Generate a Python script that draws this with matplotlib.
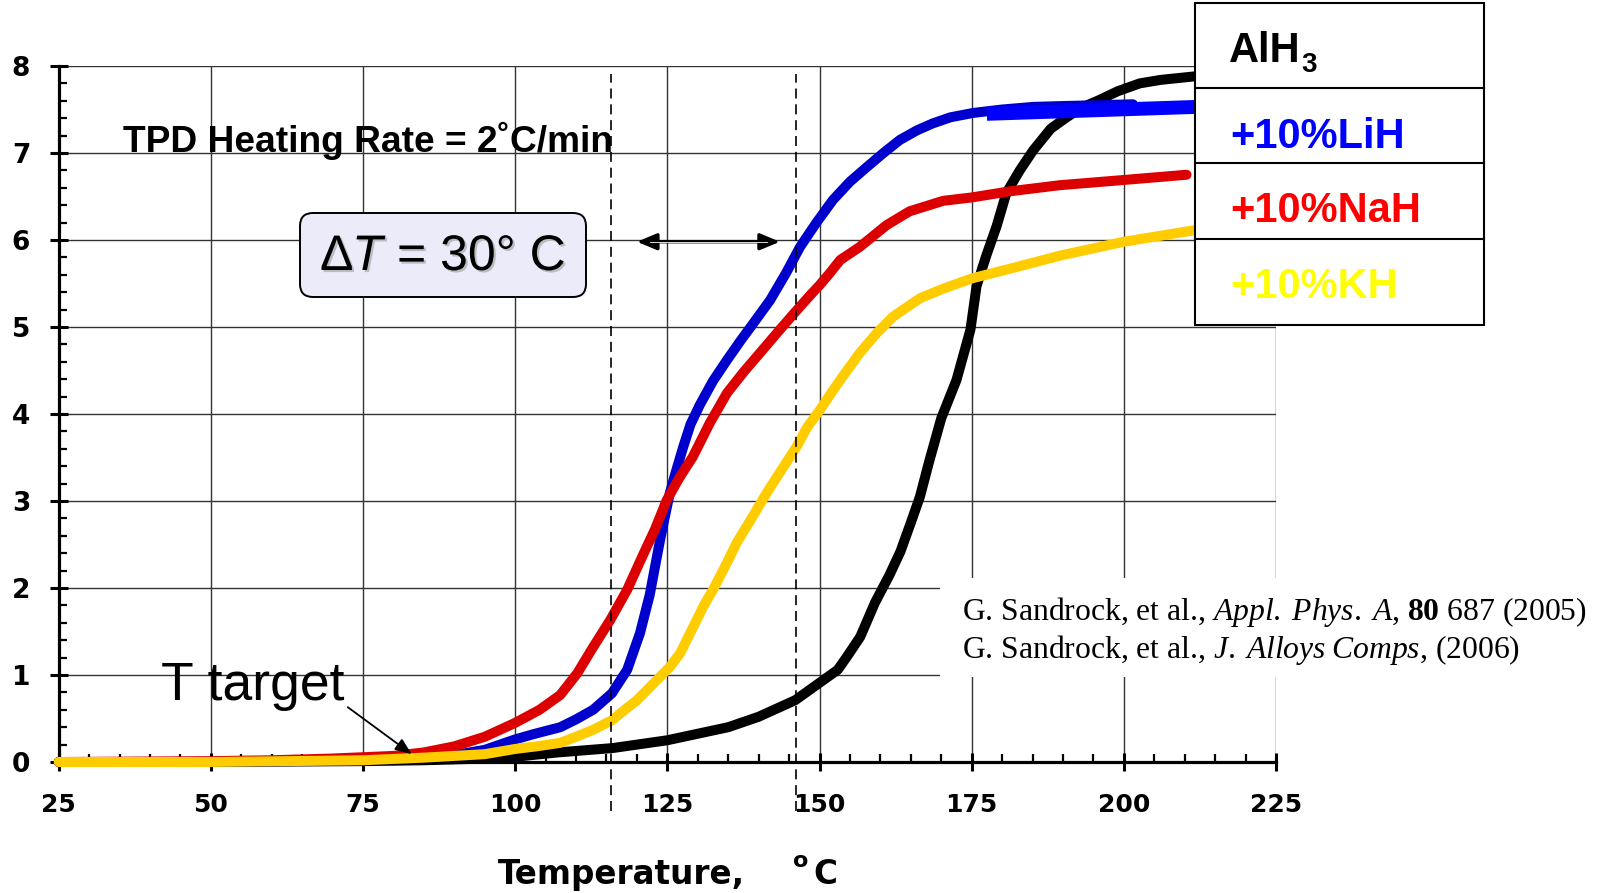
import matplotlib
matplotlib.use("Agg")
import matplotlib.pyplot as plt
from matplotlib.patches import FancyBboxPatch, Rectangle
from matplotlib.lines import Line2D
from matplotlib.ticker import MultipleLocator
import matplotlib.patheffects as pe

# ---- TPD hydrogen release curves (wt.% H2 vs temperature, degC) ----
temp_alh3 = [25, 50, 75, 85, 95, 100, 107, 116, 125, 135, 140, 146, 150, 153,
             154.5, 156.7, 159.1, 161.5, 163.3, 165, 166.5, 168, 170, 172.5,
             174.8, 175.8, 177.4, 179.1, 180.7, 182.9, 185.1, 188, 190.6, 193,
             196, 199, 202.6, 206, 211.5]
h2_alh3 = [0, 0, 0.01, 0.02, 0.04, 0.06, 0.11, 0.16, 0.25, 0.40, 0.52, 0.71,
           0.91, 1.06, 1.21, 1.44, 1.83, 2.15, 2.42, 2.75, 3.05, 3.45, 3.95,
           4.39, 4.97, 5.47, 5.82, 6.16, 6.54, 6.80, 7.03, 7.28, 7.41, 7.52,
           7.61, 7.71, 7.80, 7.84, 7.88]

temp_lih = [25, 50, 75, 85, 90, 95, 100, 103, 107.4, 110, 112.8, 115.9,
            118.4, 120.5, 121.3, 122.1, 123.8, 124.6, 125.4, 126.5, 127.6,
            128.8, 130.3, 132.5, 134.8, 137, 139.1, 141.9, 144.5, 146.8,
            149.5, 152.2, 155, 157.8, 160.5, 163.2, 166, 168.6, 171.5, 175.2,
            180, 185.1, 190, 196, 201.5]
h2_lih = [0, 0, 0.02, 0.05, 0.08, 0.14, 0.26, 0.32, 0.40, 0.49, 0.60, 0.79,
          1.06, 1.48, 1.70, 1.92, 2.55, 2.82, 3.09, 3.36, 3.62, 3.88, 4.10,
          4.38, 4.62, 4.84, 5.04, 5.31, 5.62, 5.92, 6.20, 6.46, 6.67, 6.84,
          7.00, 7.15, 7.26, 7.34, 7.41, 7.46, 7.50, 7.53, 7.54, 7.55, 7.56]
temp_lih_tail = [177.5, 212]
h2_lih_tail = [7.45, 7.53]

temp_nah = [25, 50, 60, 70, 80, 85, 90, 95, 100, 104, 107.4, 110.2, 112.8,
            115.6, 118.4, 121.0, 123, 124.9, 127, 129.2, 132, 134.8, 137.5,
            140.2, 143, 145.6, 148.4, 150, 151.7, 153.4, 156.6, 161, 164.8,
            170.3, 175.1, 181.3, 189.5, 200, 210.3]
h2_nah = [0, 0.01, 0.02, 0.04, 0.07, 0.11, 0.18, 0.29, 0.45, 0.60, 0.77,
          1.02, 1.32, 1.63, 1.98, 2.38, 2.68, 3.01, 3.27, 3.51, 3.90, 4.24,
          4.48, 4.70, 4.93, 5.14, 5.36, 5.48, 5.62, 5.77, 5.92, 6.17, 6.33,
          6.45, 6.49, 6.56, 6.63, 6.69, 6.75]

temp_kh = [25, 50, 75, 85, 90, 95, 100, 103.5, 107.4, 110, 112.8, 115.9,
           118, 120.0, 123.8, 125.5, 127.1, 129.8, 131, 132.5, 134.5, 136.4,
           139, 141.3, 143.5, 146.2, 148, 150.1, 152, 153.8, 156.6, 159.4,
           162.1, 166.5, 170.3, 175.1, 181.3, 189.5, 200, 211.4]
h2_kh = [0, 0, 0.02, 0.05, 0.07, 0.09, 0.15, 0.18, 0.22, 0.29, 0.37, 0.48,
         0.60, 0.71, 0.98, 1.10, 1.25, 1.63, 1.80, 1.98, 2.25, 2.52, 2.82,
         3.09, 3.33, 3.62, 3.85, 4.05, 4.25, 4.43, 4.70, 4.93, 5.12, 5.33,
         5.44, 5.56, 5.67, 5.82, 5.98, 6.11]

legend_labels = ["+10%LiH", "+10%NaH", "+10%KH"]
legend_colors = ["#0000FF", "#FF0000", "#FFFF00"]

x_ticks = [25, 50, 75, 100, 125, 150, 175, 200, 225]
y_ticks = [0, 1, 2, 3, 4, 5, 6, 7, 8]
delta_t_marks = [115.8, 146.2]

W, H = 1605, 893
plt.rcParams["mathtext.fontset"] = "custom"
plt.rcParams["mathtext.rm"] = "Liberation Serif"
plt.rcParams["mathtext.it"] = "Liberation Serif:italic"
plt.rcParams["mathtext.bf"] = "Liberation Serif:bold"

fig = plt.figure(figsize=(W / 100, H / 100), dpi=100)


def fx(px):
    return px / W


def fy(py):
    return 1 - py / H


def inch(px, py):
    return (px / 100, (H - py) / 100)


ax = fig.add_axes([fx(58.7), fy(762), fx(1276) - fx(58.7), fy(66) - fy(762)])
ax.set_xlim(25, 225)
ax.set_ylim(0, 8)
ax.set_xticks(x_ticks)
ax.set_yticks(y_ticks)
ax.xaxis.set_minor_locator(MultipleLocator(5))
ax.yaxis.set_minor_locator(MultipleLocator(0.2))
ax.grid(True, which="major", color="#333333", lw=1.0, zorder=0)
ax.set_axisbelow(True)
for s in ("top", "right"):
    ax.spines[s].set_visible(False)
for s in ("left", "bottom"):
    ax.spines[s].set_linewidth(2.3)
ax.tick_params(which="major", direction="inout", length=13, width=2.2)
ax.tick_params(which="minor", direction="in", length=6, width=1.6)
ax.tick_params(axis="x", which="major", pad=16)
ax.tick_params(axis="y", which="major", pad=14)
for lab in ax.get_xticklabels() + ax.get_yticklabels():
    lab.set_fontsize(18)
    lab.set_fontweight("bold")
for lab in ax.get_yticklabels():
    lab.set_fontsize(19)

lw = 7.2
ax.plot(temp_alh3, h2_alh3, color="#000000", lw=lw, solid_capstyle="round",
        solid_joinstyle="round", clip_on=False, zorder=3)
ax.plot(temp_lih, h2_lih, color="#0000CC", lw=lw, solid_capstyle="round",
        solid_joinstyle="round", clip_on=False, zorder=3.1)
ax.plot(temp_nah, h2_nah, color="#DD0000", lw=lw, solid_capstyle="round",
        solid_joinstyle="round", clip_on=False, zorder=3.2)
ax.plot(temp_kh, h2_kh, color="#FFCC00", lw=lw, solid_capstyle="round",
        solid_joinstyle="round", clip_on=False, zorder=3.3)
ax.plot(temp_lih_tail, h2_lih_tail, color="#0000FF", lw=10,
        solid_capstyle="butt", clip_on=False, zorder=3.4)

# dashed markers bounding the temperature shift
for xm in delta_t_marks:
    ax.plot([xm, xm], [-0.56, 7.91], color="k", lw=1.2, ls=(0, (6, 3.5)),
            clip_on=False, zorder=4)

# double-headed arrow
ax.annotate("", xy=(120.0, 5.98), xytext=(143.5, 5.98),
            arrowprops=dict(arrowstyle="<|-|>,head_length=1.2,head_width=0.5",
                            lw=2.4, color="k", shrinkA=0, shrinkB=0),
            zorder=5)
ax.plot([122.2, 141.3], [5.98, 5.98], color="white", lw=0.6, zorder=6)

# T target annotation
ax.text(41.8, 0.71, "T target", fontsize=38.5, family="Liberation Sans",
        va="baseline", ha="left", zorder=6)
ax.annotate("", xy=(83.0, 0.09), xytext=(72.5, 0.63),
            arrowprops=dict(arrowstyle="-|>,head_length=1.0,head_width=0.4",
                            lw=1.3, color="k", shrinkA=0, shrinkB=0),
            zorder=6)

# heating rate note
fig.text(fx(123), fy(152), "TPD Heating Rate = 2˚C/min", fontsize=26.7,
         family="Liberation Sans", fontweight="bold", va="baseline")

# delta-T box
x0, y0 = inch(300, 297)
x1, y1 = inch(586, 213)
fig.patches.append(FancyBboxPatch((x0, y0), x1 - x0, y1 - y0,
                                  boxstyle="round,pad=0,rounding_size=0.13",
                                  facecolor="#EBEBFA", edgecolor="k", lw=1.4,
                                  transform=fig.dpi_scale_trans, figure=fig))
shadow = [pe.withSimplePatchShadow(offset=(1.5, -1.5), shadow_rgbFace="0.55",
                                   alpha=0.5)]
for txt, px, style in (("Δ", 320, "normal"), ("T", 352, "italic"),
                       ("= 30° C", 397, "normal")):
    fig.text(fx(px), fy(270), txt, fontsize=36, family="Liberation Sans",
             style=style, va="baseline", path_effects=shadow)

# legend table
lx0, ly0 = inch(1195, 325)
lx1, ly1 = inch(1484, 3)
fig.patches.append(Rectangle((lx0, ly0), lx1 - lx0, ly1 - ly0,
                             facecolor="white", edgecolor="k", lw=1.5,
                             transform=fig.dpi_scale_trans, figure=fig))
for py in (88, 163, 239):
    fig.lines.append(Line2D([fx(1195), fx(1484)], [fy(py), fy(py)],
                            color="k", lw=1.5, transform=fig.transFigure,
                            figure=fig))
fig.text(fx(1229), fy(62), "AlH", fontsize=30, family="Liberation Sans",
         fontweight="bold", va="baseline")
fig.text(fx(1301), fy(72), "3", fontsize=20, family="Liberation Sans",
         fontweight="bold", va="baseline")
for lab, col, py in zip(legend_labels, legend_colors, (148, 222, 298)):
    fig.text(fx(1230), fy(py), lab, fontsize=30, family="Liberation Sans",
             fontweight="bold", color=col, va="baseline")

# reference note
cx0, cy0 = inch(940, 677)
cx1, cy1 = inch(1605, 578)
fig.patches.append(Rectangle((cx0, cy0), cx1 - cx0, cy1 - cy0,
                             facecolor="white", edgecolor="none",
                             transform=fig.dpi_scale_trans, figure=fig))
fig.text(fx(962), fy(620),
         r"G. Sandrock, et al., $\mathit{Appl.\;Phys.\;A}$, $\mathbf{80}$ 687 (2005)",
         fontsize=22.8, family="Liberation Serif", va="baseline")
fig.text(fx(962), fy(658),
         r"G. Sandrock, et al., $\mathit{J.\;Alloys\;Comps}$, (2006)",
         fontsize=22.8, family="Liberation Serif", va="baseline")

# x-axis title
fig.text(fx(498), fy(884), "Temperature,", fontsize=23.5, fontweight="bold",
         va="baseline")
fig.text(fx(793), fy(867), "o", fontsize=16, fontweight="bold",
         va="baseline")
fig.text(fx(813), fy(884), "C", fontsize=23.5, fontweight="bold",
         va="baseline")

fig.savefig("out.png", dpi=100)
